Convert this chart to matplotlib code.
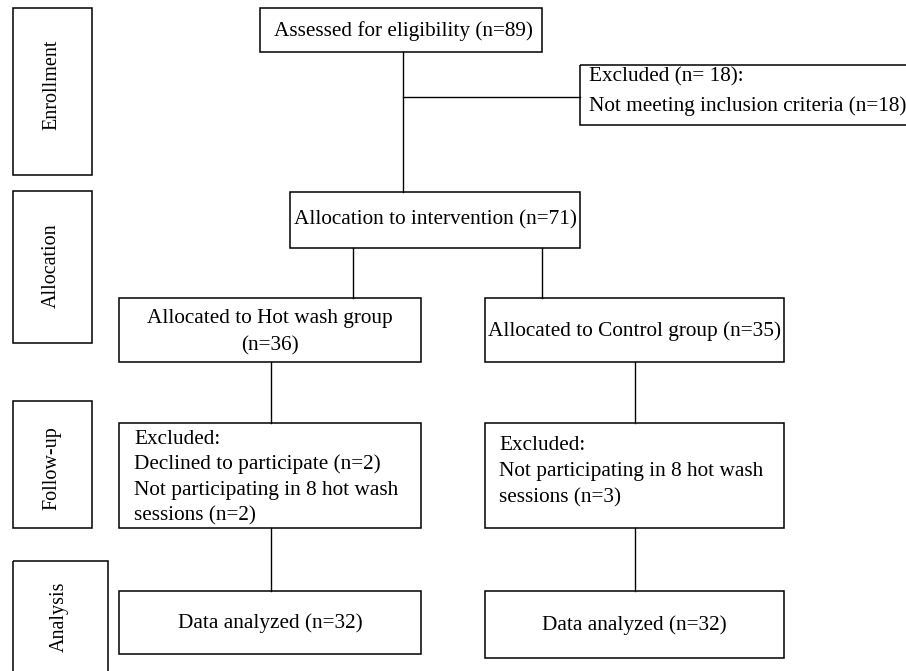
import matplotlib.pyplot as plt
from matplotlib.patches import Rectangle

# data
stages = ["Enrollment", "Allocation", "Follow-up", "Analysis"]
assessed = 89
excluded = 18
allocated = 71
group_names = ["Hot wash", "Control"]
group_n = [36, 35]
declined = [2, 0]
not_participating = [2, 3]
analyzed = [32, 32]

plt.rcParams['font.family'] = ['Liberation Serif', 'DejaVu Serif']

fig = plt.figure(figsize=(9.06, 6.71), dpi=100)
ax = fig.add_axes([0, 0, 1, 1])
ax.set_xlim(0, 906)
ax.set_ylim(671, 0)
ax.axis("off")

FS = 15.3
LW = 1.1
DY = 2  # small nudge so text sits like the original


def box(x0, y0, x1, y1):
    ax.add_patch(Rectangle((x0, y0), x1 - x0, y1 - y0, fill=False,
                           edgecolor="black", lw=LW, clip_on=False))


def line(xs, ys):
    ax.plot(xs, ys, color="black", lw=LW * 0.9)


def txt(x, y, s, **kw):
    kw.setdefault("va", "center")
    kw.setdefault("fontsize", FS)
    ax.text(x, y + DY, s, **kw)


# stage boxes on the left
stage_boxes = [(13, 8, 92, 175), (13, 191, 92, 343), (13, 401, 92, 528), (13, 561, 108, 680)]
stage_centers = [85, 266, 468, 617]
for name, (x0, y0, x1, y1), yc in zip(stages, stage_boxes, stage_centers):
    box(x0, y0, x1, y1)
    ax.text((x0 + x1) / 2 - 1, yc, name, rotation=90, ha="center", va="center",
            fontsize=14.5)

# enrollment
box(260, 8, 542, 52)
txt(403, 29, f"Assessed for eligibility (n={assessed})", ha="center")
box(580, 65, 930, 125)
txt(589, 75, f"Excluded (n= {excluded}):", ha="left")
txt(589, 104, f"Not meeting inclusion criteria (n={excluded})", ha="left")
line([403, 403], [52, 192])
line([403, 580], [97, 97])

# allocation
box(290, 192, 580, 248)
txt(435, 218, f"Allocation to intervention (n={allocated})", ha="center")
line([353, 353], [248, 298])
line([542, 542], [248, 298])

box(119, 298, 421, 362)
txt(270, 330, f"Allocated to {group_names[0]} group\n(n={group_n[0]})", ha="center",
    linespacing=1.6)
box(485, 298, 784, 362)
txt(634, 329, f"Allocated to {group_names[1]} group (n={group_n[1]})", ha="center")

line([271, 271], [362, 423])
line([635, 635], [362, 423])

# follow-up
box(119, 423, 421, 528)
left_lines = ["Excluded:",
              f"Declined to participate (n={declined[0]})",
              "Not participating in 8 hot wash",
              f"sessions (n={not_participating[0]})"]
for i, t in enumerate(left_lines):
    txt(134, 437 + i * 25.5, t, ha="left")

box(485, 423, 784, 528)
right_lines = ["Excluded:",
               "Not participating in 8 hot wash",
               f"sessions (n={not_participating[1]})"]
for i, t in enumerate(right_lines):
    txt(499, 443 + i * 26.5, t, ha="left")

line([271, 271], [528, 591])
line([635, 635], [528, 591])

# analysis
box(119, 591, 421, 654)
txt(270, 621, f"Data analyzed (n={analyzed[0]})", ha="center")
box(485, 591, 784, 658)
txt(634, 623, f"Data analyzed (n={analyzed[1]})", ha="center")

fig.savefig("out.png", dpi=100)
